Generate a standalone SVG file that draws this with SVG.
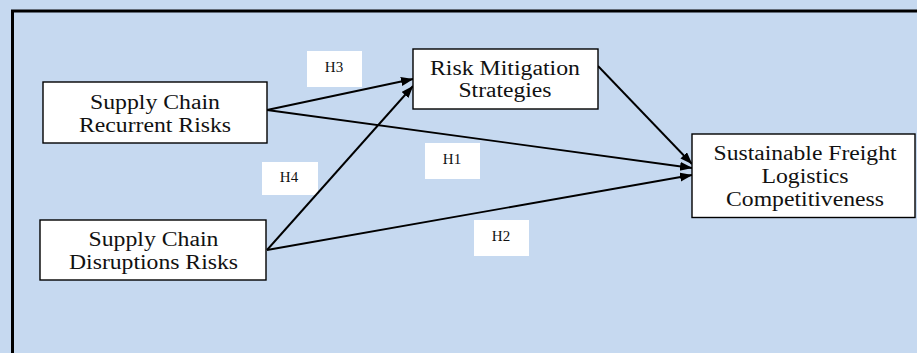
<svg xmlns="http://www.w3.org/2000/svg" width="917" height="353" viewBox="0 0 917 353">
<style>
  .node rect { fill: #ffffff; stroke: #000000; stroke-width: 1.4; }
  .node text { font-family: "Liberation Serif", "Times New Roman", serif; font-size: 20px; fill: #111111; text-anchor: middle; }
  .lbl rect { fill: #ffffff; stroke: none; }
  .lbl text { font-family: "Liberation Serif", "Times New Roman", serif; font-size: 15px; fill: #111111; text-anchor: middle; }
  .conn { stroke: #000000; stroke-width: 1.9; fill: none; marker-end: url(#arrow); }
</style>
<defs>
  <marker id="arrow" markerUnits="userSpaceOnUse" markerWidth="13" markerHeight="10" refX="12" refY="4.5" orient="auto">
    <path d="M0,0 L12.5,4.5 L0,9 z" fill="#000000"/>
  </marker>
</defs>
<rect x="0" y="0" width="917" height="353" fill="#C6D9F0"/>
<path d="M12.5,353 L12.5,11 L917,11" fill="none" stroke="#000000" stroke-width="3"/>

<g id="labels">
  <g id="label-h3" class="lbl"><rect x="307" y="51" width="55" height="36"/><text x="334" y="72">H3</text></g>
  <g id="label-h1" class="lbl"><rect x="425" y="143" width="55" height="36"/><text x="452" y="164">H1</text></g>
  <g id="label-h4" class="lbl"><rect x="262" y="162" width="56" height="33"/><text x="289" y="182">H4</text></g>
  <g id="label-h2" class="lbl"><rect x="474" y="220" width="55" height="36"/><text x="501" y="241">H2</text></g>
</g>

<g id="connectors">
  <path class="conn" d="M267,110 L413,79"/>
  <path class="conn" d="M267,110 L692,168"/>
  <path class="conn" d="M267,250 L413,86"/>
  <path class="conn" d="M267,250 L692,175"/>
  <path class="conn" d="M598,66 L692,164"/>
</g>

<g id="node-recurrent" class="node">
  <rect x="43" y="82" width="224" height="61"/>
  <text x="155" y="109" textLength="130" lengthAdjust="spacingAndGlyphs">Supply Chain</text>
  <text x="155" y="131.7" textLength="152" lengthAdjust="spacingAndGlyphs">Recurrent Risks</text>
</g>
<g id="node-disruptions" class="node">
  <rect x="40" y="220" width="226" height="60"/>
  <text x="153.5" y="246" textLength="130" lengthAdjust="spacingAndGlyphs">Supply Chain</text>
  <text x="153.5" y="268.7" textLength="169" lengthAdjust="spacingAndGlyphs">Disruptions Risks</text>
</g>
<g id="node-mitigation" class="node">
  <rect x="413" y="49" width="185" height="60"/>
  <text x="505" y="75.3" textLength="150" lengthAdjust="spacingAndGlyphs">Risk Mitigation</text>
  <text x="505" y="96.7" textLength="93" lengthAdjust="spacingAndGlyphs">Strategies</text>
</g>
<g id="node-competitiveness" class="node">
  <rect x="692" y="134" width="223" height="83.5"/>
  <text x="805" y="160" textLength="183" lengthAdjust="spacingAndGlyphs">Sustainable Freight</text>
  <text x="805" y="183.3" textLength="87" lengthAdjust="spacingAndGlyphs">Logistics</text>
  <text x="805" y="206" textLength="158" lengthAdjust="spacingAndGlyphs">Competitiveness</text>
</g>
</svg>
